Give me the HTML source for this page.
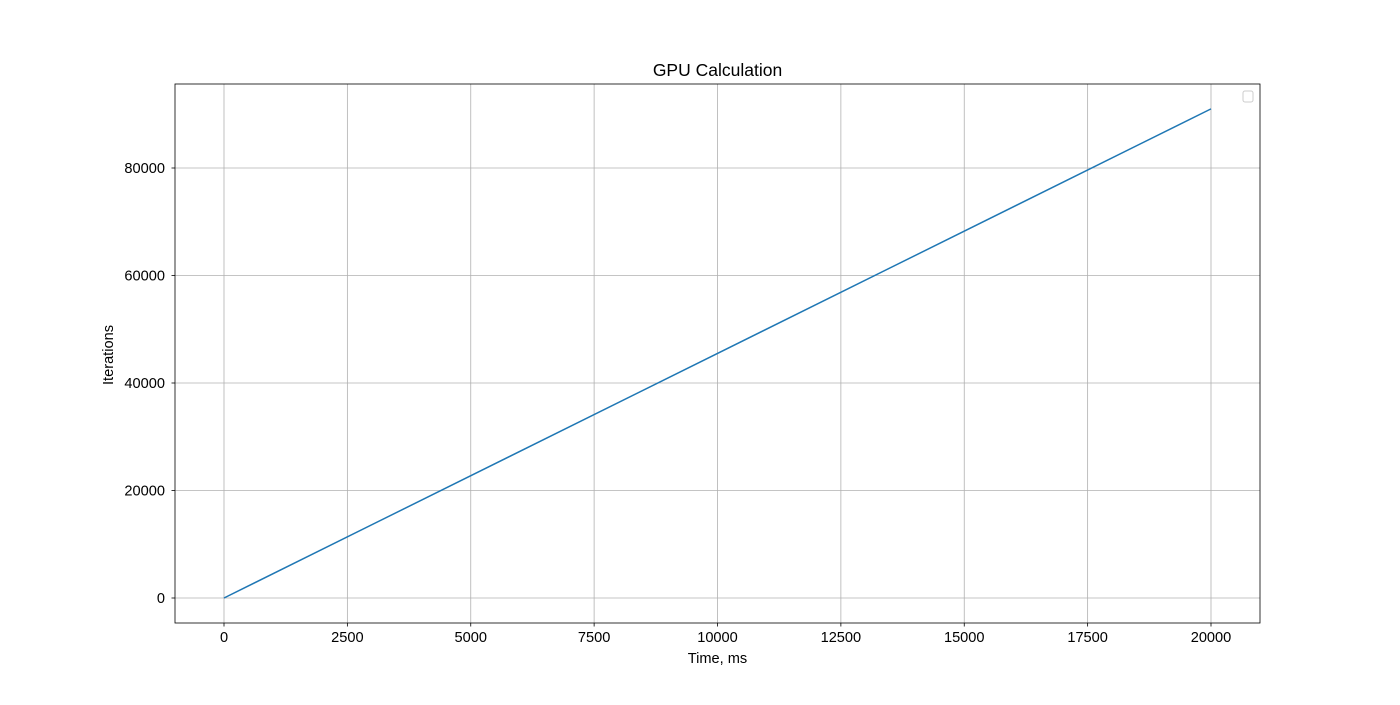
<!DOCTYPE html>
<html><head><meta charset="utf-8"><style>
body{margin:0;background:#fff;}
text{font-family:"Liberation Sans",sans-serif;}
</style></head><body>
<svg id="chart" width="1400" height="700" xmlns="http://www.w3.org/2000/svg"></svg>
<script>
const xTicks=[0,2500,5000,7500,10000,12500,15000,17500,20000];
const yTicks=[0,20000,40000,60000,80000];
const seriesX=[0,20000];
const seriesY=[0,91000];
const NS="http://www.w3.org/2000/svg";
const svg=document.getElementById('chart');
const L=175,R=1260,T=84,B=623;
const sx=v=>224+v*(1211-224)/20000;
const sy=v=>598-v*(598-168)/80000;
function mk(tag,attrs,parent){const e=document.createElementNS(NS,tag);for(const k in attrs)e.setAttribute(k,attrs[k]);(parent||svg).appendChild(e);return e;}
const grid=mk('g',{});


xTicks.forEach(t=>{
  const x=sx(t);
  const l=mk('line',{x1:x,x2:x,y1:T,y2:B,stroke:'#b0b0b0','stroke-width':0.8},grid);
  
  
  mk('line',{x1:x,x2:x,y1:B,y2:B+3.5,stroke:'#000','stroke-width':0.8});
  const tx=mk('text',{x:x,y:B+19,'font-size':14.6,'text-anchor':'middle'});
  tx.textContent=t;
  
  
});
yTicks.forEach(t=>{
  const y=sy(t);
  const l=mk('line',{x1:L,x2:R,y1:y,y2:y,stroke:'#b0b0b0','stroke-width':0.8},grid);
  
  
  mk('line',{x1:L-3.5,x2:L,y1:y,y2:y,stroke:'#000','stroke-width':0.8});
  const tx=mk('text',{x:L-10,y:y+5,'font-size':14.6,'text-anchor':'end'});
  tx.textContent=t;
  
  
});
const pts=seriesX.map((v,i)=>sx(v)+','+sy(seriesY[i])).join(' ');
const line=mk('polyline',{points:pts,fill:'none',stroke:'#1f77b4','stroke-width':1.5});


const frame=mk('rect',{x:L,y:T,width:R-L,height:B-T,fill:'none',stroke:'#000','stroke-width':0.8});


const leg=mk('rect',{x:1243,y:91,width:10,height:11,rx:2,fill:'#fff',stroke:'#ccc','stroke-width':1});


const title=mk('text',{x:717.5,y:76,'font-size':17.5,'text-anchor':'middle'});
title.textContent='GPU Calculation';


const xl=mk('text',{x:717.5,y:663,'font-size':14.6,'text-anchor':'middle'});
xl.textContent='Time, ms';


const yl=mk('text',{x:113,y:355,'font-size':14.6,'text-anchor':'middle',transform:'rotate(-90 113 355)'});
yl.textContent='Iterations';


</script>
</body></html>
